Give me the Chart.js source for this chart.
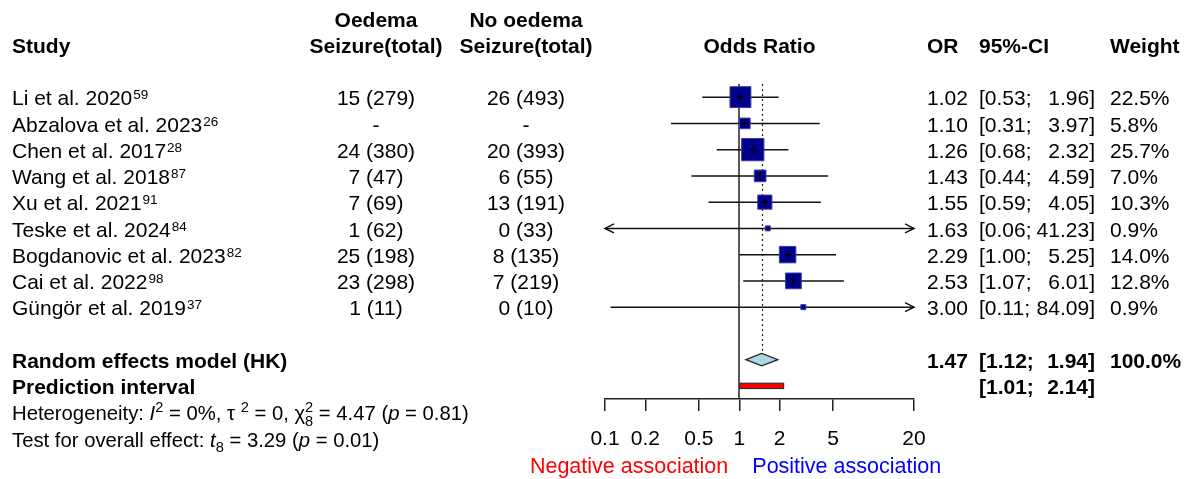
<!DOCTYPE html>
<html>
<head>
<meta charset="utf-8">
<script src="https://cdn.jsdelivr.net/npm/chart.js@4.4.1/dist/chart.umd.min.js"></script>
<style>
  html, body { margin: 0; padding: 0; background: #fff; }
  #wrap { width: 1192px; height: 479px; }
</style>
</head>
<body>
<div id="wrap"><canvas id="forestChart"></canvas></div>
<script>
var studies = ['Li et al. 2020', 'Abzalova et al. 2023', 'Chen et al. 2017', 'Wang et al. 2018', 'Xu et al. 2021',
               'Teske et al. 2024', 'Bogdanovic et al. 2023', 'Cai et al. 2022', 'G\u00fcng\u00f6r et al. 2019'];
var refs = ['59', '26', '28', '87', '91', '84', '82', '98', '37'];
var oedemaSeizure = ['15 (279)', '-', '24 (380)', '7 (47)', '7 (69)', '1 (62)', '25 (198)', '23 (298)', '1 (11)'];
var noOedemaSeizure = ['26 (493)', '-', '20 (393)', '6 (55)', '13 (191)', '0 (33)', '8 (135)', '7 (219)', '0 (10)'];
var oddsRatio = [1.02, 1.10, 1.26, 1.43, 1.55, 1.63, 2.29, 2.53, 3.00];
var ciLower = [0.53, 0.31, 0.68, 0.44, 0.59, 0.06, 1.00, 1.07, 0.11];
var ciUpper = [1.96, 3.97, 2.32, 4.59, 4.05, 41.23, 5.25, 6.01, 84.09];
var weights = [22.5, 5.8, 25.7, 7.0, 10.3, 0.9, 14.0, 12.8, 0.9];
var pooled = [1.47, 1.12, 1.94];        // estimate, lower, upper
var predInterval = [1.01, 2.14];
var heterogeneity = ['0%', '0', '8', '4.47', '0.81'];   // I2, tau2, df, chi2, p
var overallTest = ['8', '3.29', '0.01'];                 // df, t, p
var xTicks = [0.1, 0.2, 0.5, 1, 2, 5, 20];

var FONT = '"Liberation Sans", Arial, Helvetica, sans-serif';
var FS = 21;
var BASE = 8.2;
var xMin = 0.1, xMax = 20;
var nullEffect = 1;
var pooledRow = 11, predRow = 12;

function clip(v) { return Math.min(Math.max(v, xMin), xMax); }

var boxSide = weights.map(function(w) { return Math.max(4.4 * Math.sqrt(w), 5); });

var datasets = [];
// point estimate cross
datasets.push({
  data: oddsRatio.map(function(v, i) { return {x: v, y: i + 1}; }),
  pointStyle: 'cross',
  pointRadius: boxSide.map(function(s) { return s > 8 ? 3.5 : 0; }),
  borderColor: '#000', borderWidth: 1.3, order: 1
});
// squares
datasets.push({
  data: oddsRatio.map(function(v, i) { return {x: v, y: i + 1}; }),
  pointStyle: 'rect',
  pointRadius: boxSide.map(function(s) { return s / Math.SQRT2; }),
  backgroundColor: '#00008b', borderColor: '#3a3aa6', borderWidth: 1, order: 2
});
// confidence intervals
for (var i = 0; i < studies.length; i++) {
  datasets.push({
    showLine: true,
    data: [{x: clip(ciLower[i]), y: i + 1}, {x: clip(ciUpper[i]), y: i + 1}],
    borderColor: '#111', borderWidth: 1.5, pointRadius: 0, order: 3, clip: false
  });
}

function txt(ctx, s, x, y, align, bold, size, color) {
  ctx.font = (bold ? 'bold ' : '') + (size || FS) + 'px ' + FONT;
  ctx.textAlign = align || 'left';
  ctx.textBaseline = 'alphabetic';
  ctx.fillStyle = color || '#000';
  ctx.fillText(s, x, y + BASE);
  return ctx.measureText(s).width;
}

function runs(ctx, x, y, parts, size) {
  ctx.textAlign = 'left';
  ctx.textBaseline = 'alphabetic';
  ctx.fillStyle = '#000';
  parts.forEach(function(p) {
    var fs = p.s ? size * 0.72 : size;
    ctx.font = (p.i ? 'italic ' : '') + fs + 'px ' + FONT;
    var dy = p.s === 'sup' ? -size * 0.42 : (p.s === 'sub' ? size * 0.28 : 0);
    ctx.fillText(p.t, x, y + BASE + dy);
    if (!p.stack) x += ctx.measureText(p.t).width;
  });
}

var forestPlugin = {
  id: 'forest',
  beforeDatasetsDraw: function(chart) {
    var ctx = chart.ctx, xs = chart.scales.x, ys = chart.scales.y, area = chart.chartArea;
    ctx.save();
    ctx.strokeStyle = '#222';
    ctx.lineWidth = 1.5;
    var x1 = Math.round(xs.getPixelForValue(nullEffect));
    ctx.beginPath(); ctx.moveTo(x1, area.top); ctx.lineTo(x1, area.bottom); ctx.stroke();
    var xp = Math.round(xs.getPixelForValue(pooled[0])) + 0.5;
    ctx.lineWidth = 1.2;
    ctx.setLineDash([2, 3]);
    ctx.beginPath(); ctx.moveTo(xp, area.top); ctx.lineTo(xp, ys.getPixelForValue(pooledRow) - 6); ctx.stroke();
    ctx.restore();
  },
  afterDatasetsDraw: function(chart) {
    var ctx = chart.ctx, xs = chart.scales.x, ys = chart.scales.y;
    ctx.save();
    // arrows for truncated intervals
    ctx.strokeStyle = '#111';
    ctx.lineWidth = 1.5;
    for (var i = 0; i < studies.length; i++) {
      var y = ys.getPixelForValue(i + 1);
      if (ciLower[i] < xMin) {
        var xl = xs.getPixelForValue(xMin);
        ctx.beginPath(); ctx.moveTo(xl + 9, y - 4.5); ctx.lineTo(xl, y); ctx.lineTo(xl + 9, y + 4.5); ctx.stroke();
      }
      if (ciUpper[i] > xMax) {
        var xr = xs.getPixelForValue(xMax);
        ctx.beginPath(); ctx.moveTo(xr - 9, y - 4.5); ctx.lineTo(xr, y); ctx.lineTo(xr - 9, y + 4.5); ctx.stroke();
      }
    }
    // pooled diamond
    var yd = ys.getPixelForValue(pooledRow);
    ctx.beginPath();
    ctx.moveTo(xs.getPixelForValue(pooled[1]), yd);
    ctx.lineTo(xs.getPixelForValue(pooled[0]), yd - 6.2);
    ctx.lineTo(xs.getPixelForValue(pooled[2]), yd);
    ctx.lineTo(xs.getPixelForValue(pooled[0]), yd + 6.2);
    ctx.closePath();
    ctx.fillStyle = '#add8e6';
    ctx.fill();
    ctx.lineWidth = 1.2;
    ctx.strokeStyle = '#222';
    ctx.stroke();
    // prediction interval
    var yp = ys.getPixelForValue(predRow);
    var p0 = xs.getPixelForValue(predInterval[0]), p1 = xs.getPixelForValue(predInterval[1]);
    ctx.fillStyle = '#ff0000';
    ctx.fillRect(p0, yp - 2.7, p1 - p0, 5.4);
    ctx.lineWidth = 1;
    ctx.strokeRect(p0, yp - 2.7, p1 - p0, 5.4);
    ctx.restore();
  },
  afterDraw: function(chart) {
    var ctx = chart.ctx, xs = chart.scales.x, ys = chart.scales.y, area = chart.chartArea;
    var colStudy = 12, colOedema = 376, colNoOedema = 526, colOR = 927, colCiL = 979, colCiR = 1095, colWeight = 1110;
    ctx.save();
    var h1 = ys.getPixelForValue(-2), h2 = ys.getPixelForValue(-1);
    txt(ctx, 'Study', colStudy, h2, 'left', true);
    txt(ctx, 'Oedema', colOedema, h1, 'center', true);
    txt(ctx, 'Seizure(total)', colOedema, h2, 'center', true);
    txt(ctx, 'No oedema', colNoOedema, h1, 'center', true);
    txt(ctx, 'Seizure(total)', colNoOedema, h2, 'center', true);
    txt(ctx, 'Odds Ratio', (area.left + area.right) / 2, h2, 'center', true);
    txt(ctx, 'OR', colOR, h2, 'left', true);
    txt(ctx, '95%-CI', colCiL, h2, 'left', true);
    txt(ctx, 'Weight', colWeight, h2, 'left', true);

    for (var i = 0; i < studies.length; i++) {
      var y = ys.getPixelForValue(i + 1);
      var w = txt(ctx, studies[i], colStudy, y, 'left');
      txt(ctx, refs[i], colStudy + w + 1, y - 6, 'left', false, 13.5);
      txt(ctx, oedemaSeizure[i], colOedema, y, 'center');
      txt(ctx, noOedemaSeizure[i], colNoOedema, y, 'center');
      txt(ctx, oddsRatio[i].toFixed(2), colOR, y, 'left');
      txt(ctx, '[' + ciLower[i].toFixed(2) + ';', colCiL, y, 'left');
      txt(ctx, ciUpper[i].toFixed(2) + ']', colCiR, y, 'right');
      txt(ctx, weights[i].toFixed(1) + '%', colWeight, y, 'left');
    }

    var yr = ys.getPixelForValue(pooledRow);
    txt(ctx, 'Random effects model (HK)', colStudy, yr, 'left', true);
    txt(ctx, pooled[0].toFixed(2), colOR, yr, 'left', true);
    txt(ctx, '[' + pooled[1].toFixed(2) + ';', colCiL, yr, 'left', true);
    txt(ctx, pooled[2].toFixed(2) + ']', colCiR, yr, 'right', true);
    txt(ctx, '100.0%', colWeight, yr, 'left', true);

    var yq = ys.getPixelForValue(predRow);
    txt(ctx, 'Prediction interval', colStudy, yq, 'left', true);
    txt(ctx, '[' + predInterval[0].toFixed(2) + ';', colCiL, yq, 'left', true);
    txt(ctx, predInterval[1].toFixed(2) + ']', colCiR, yq, 'right', true);

    var sfs = 20.3;
    runs(ctx, colStudy, ys.getPixelForValue(13), [
      {t: 'Heterogeneity: '}, {t: 'I', i: true}, {t: '2', s: 'sup'}, {t: ' = ' + heterogeneity[0] + ', \u03c4 '},
      {t: '2', s: 'sup'}, {t: ' = ' + heterogeneity[1] + ', \u03c7'}, {t: '2', s: 'sup', stack: true}, {t: heterogeneity[2], s: 'sub'},
      {t: ' = ' + heterogeneity[3] + ' ('}, {t: 'p', i: true}, {t: ' = ' + heterogeneity[4] + ')'}
    ], sfs);
    runs(ctx, colStudy, ys.getPixelForValue(14), [
      {t: 'Test for overall effect: '}, {t: 't', i: true}, {t: overallTest[0], s: 'sub'},
      {t: ' = ' + overallTest[1] + ' ('}, {t: 'p', i: true}, {t: ' = ' + overallTest[2] + ')'}
    ], sfs);

    var yl = ys.getPixelForValue(15);
    var xn = xs.getPixelForValue(nullEffect);
    txt(ctx, 'Negative association', xn - 11, yl, 'right', false, 21.5, '#ff0000');
    txt(ctx, 'Positive association', xn + 13, yl, 'left', false, 21.5, '#0000ff');
    ctx.restore();
  }
};

var chart = new Chart(document.getElementById('forestChart'), {
  type: 'scatter',
  data: { datasets: datasets },
  options: {
    responsive: true,
    maintainAspectRatio: false,
    animation: false,
    events: [],
    layout: { padding: { left: 605, right: 278, top: 84, bottom: 0 } },
    plugins: { legend: { display: false }, tooltip: { enabled: false } },
    scales: {
      x: {
        type: 'logarithmic',
        min: xMin,
        max: xMax,
        position: 'bottom',
        afterBuildTicks: function(axis) {
          axis.ticks = xTicks.map(function(v) { return {value: v}; });
        },
        afterFit: function(axis) { axis.height = 80; },
        grid: { display: true, drawOnChartArea: false, drawTicks: true, tickLength: 12, color: '#222', lineWidth: 1.5 },
        border: { display: true, color: '#222', width: 1.5 },
        ticks: {
          autoSkip: false, maxRotation: 0, padding: 16, color: '#000',
          font: { family: FONT, size: FS },
          callback: function(v) { return String(v); }
        }
      },
      y: { type: 'linear', min: 0.5, max: 12.5, reverse: true, display: false }
    }
  },
  plugins: [forestPlugin]
});
</script>
</body>
</html>
